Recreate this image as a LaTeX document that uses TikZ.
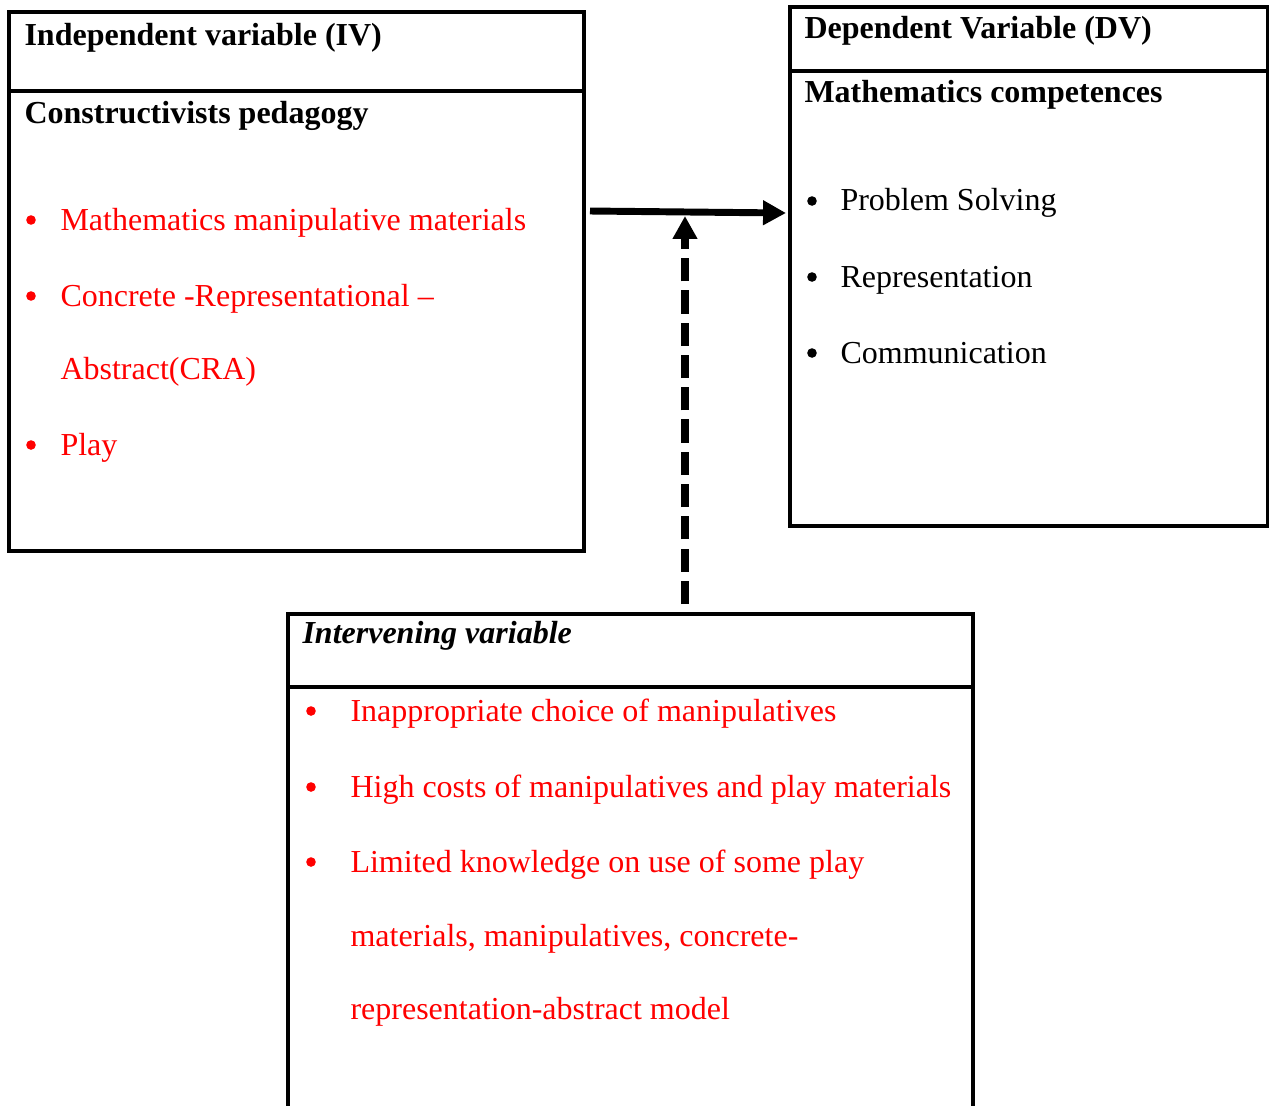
\documentclass[tikz,border=0pt]{standalone}
\usepackage{fontspec}
\setmainfont{Liberation Serif}
\usetikzlibrary{arrows.meta}

\begin{document}
\begin{tikzpicture}[x=0.375pt, y=-0.375pt,
    box/.style={line width=1.4pt},
    txt/.style={anchor=base west, inner sep=0pt, font=\fontsize{12}{14}\selectfont},
    head/.style={txt, font=\fontsize{12}{14}\selectfont\bfseries},
    item/.style={txt, text=red},
    dot/.style={circle, fill, inner sep=0pt, minimum size=3.6pt},
    link/.style={line width=2.6pt, -{Triangle[length=8.6pt, width=8.8pt]}}]
    \useasboundingbox (0, 0) rectangle (1269, 1105);

    % independent variable
    \draw[box] (9, 12) rectangle (584, 551);
    \draw[box] (9, 91) -- (584, 91);
    \node[head] (ivhead) at (24, 45) {Independent variable (IV)};
    \node[head] (ivsub) at (24, 123) {Constructivists pedagogy};
    \node[dot, red] (ivd1) at (31, 220) {};
    \node[item] (iv1) at (60, 230) {Mathematics manipulative materials};
    \node[dot, red] (ivd2) at (31, 296) {};
    \node[item] (iv2) at (60, 306) {Concrete -Representational –};
    \node[item] (iv2b) at (60, 379) {Abstract(CRA)};
    \node[dot, red] (ivd3) at (31, 445) {};
    \node[item] (iv3) at (60, 455) {Play};

    % dependent variable
    \draw[box] (790, 7) rectangle (1268, 526);
    \draw[box] (790, 71) -- (1268, 71);
    \node[head] (dvhead) at (804, 38) {Dependent Variable (DV)};
    \node[head] (dvsub) at (804, 102) {Mathematics competences};
    \node[dot] (dvd1) at (812, 201) {};
    \node[txt] (dv1) at (840, 210) {Problem Solving};
    \node[dot] (dvd2) at (812, 277) {};
    \node[txt] (dv2) at (840, 287) {Representation};
    \node[dot] (dvd3) at (812, 353) {};
    \node[txt] (dv3) at (840, 363) {Communication};

    % intervening variable
    \draw[box] (288, 1110) -- (288, 614) -- (973, 614) -- (973, 1110);
    \draw[box] (288, 687) -- (973, 687);
    \node[head, font=\fontsize{12}{14}\selectfont\bfseries\itshape] (ivvhead) at (302, 643) {Intervening variable};
    \node[dot, red] (ivvd1) at (311, 711) {};
    \node[item] (ivv1) at (350, 721) {Inappropriate choice of manipulatives};
    \node[dot, red] (ivvd2) at (311, 787) {};
    \node[item] (ivv2) at (350, 797) {High costs of manipulatives and play materials};
    \node[dot, red] (ivvd3) at (311, 862) {};
    \node[item] (ivv3) at (350, 872) {Limited knowledge on use of some play};
    \node[item] (ivv3b) at (350, 946) {materials, manipulatives, concrete-};
    \node[item] (ivv3c) at (350, 1019) {representation-abstract model};

    % arrows
    \coordinate (ivout) at (590, 211);
    \coordinate (dvin) at (786, 213);
    \draw[link] (ivout) -- (dvin);
    \coordinate (modbase) at (685, 604);
    \coordinate (modtip) at (685, 216);
    \draw[link, line width=2.9pt, dash pattern=on 8.7pt off 3.4pt] (modbase) -- (modtip);
\end{tikzpicture}
\end{document}
